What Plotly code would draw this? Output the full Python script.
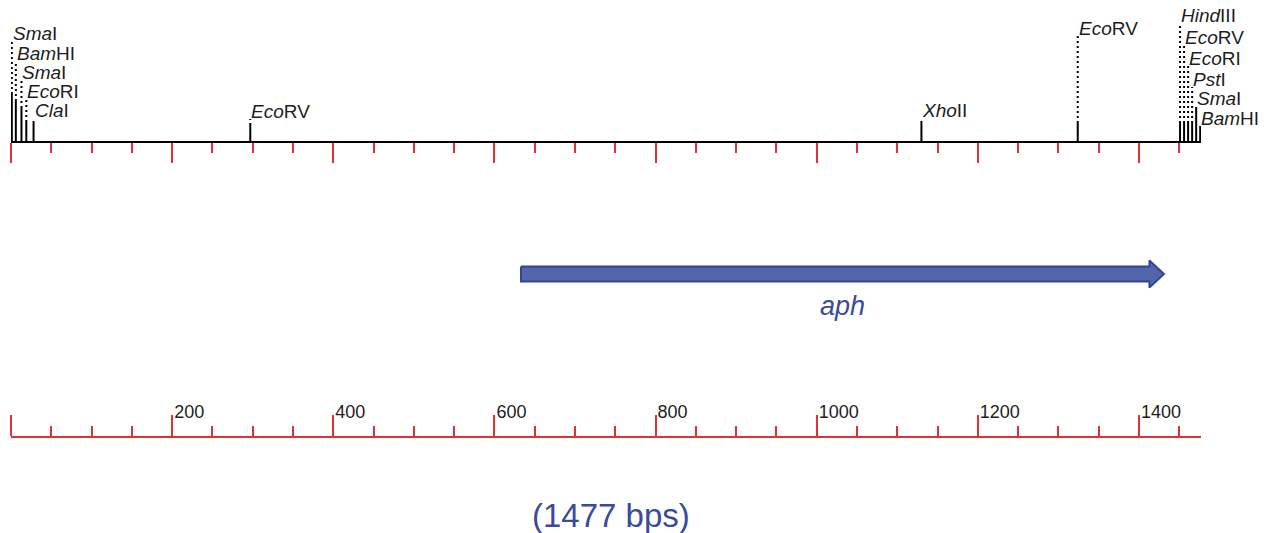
import plotly.graph_objects as go

# ---------------- data ----------------
plasmid_length = 1477

site_italic = ["Sma", "Bam", "Sma", "Eco", "Cla", "Eco", "Xho", "Eco",
               "Hind", "Eco", "Eco", "Pst", "Sma", "Bam"]
site_roman = ["I", "HI", "I", "RI", "I", "RV", "II", "RV",
              "III", "RV", "RI", "I", "I", "HI"]
site_positions = [1, 6, 13, 19, 28, 297, 1130, 1324,
                  1451, 1456, 1461, 1466, 1471, 1476]

gene_name = "aph"
gene_start = 633
gene_end = 1431

major_ticks = [0, 200, 400, 600, 800, 1000, 1200, 1400]
major_tick_labels = ["", "200", "400", "600", "800", "1000", "1200", "1400"]
minor_step = 50

# ---------------- layout / style (pixels above the map line) ----------------
label_levels = [109, 89, 70, 51, 32, 31, 32, 114,
                127, 105, 84, 63, 44, 24]
solid_heights = [48, 41, 34, 20, 19, 17, 19, 19,
                 19, 19, 19, 19, 33, 17]
label_gap = 8

RED = "#e03232"
BLUE_FILL = "#5565aa"
BLUE_LINE = "#314595"
BLUE_TEXT = "#3a4b9b"
TEXT = "#1e1e1e"
FONT = "Liberation Sans, Arial, sans-serif"

W, H = 1270, 533
base_px = 142          # pixel row of the map line
scale_px = 437         # pixel row of the bottom scale
x_left_px, x_right_px = 11, 1201

fig = go.Figure()

# restriction-site lines
solid_x, solid_y, dot_x, dot_y = [], [], [], []
for pos, lvl, sh in zip(site_positions, label_levels, solid_heights):
    top = lvl - label_gap
    s = min(sh, top)
    solid_x += [pos, pos, None]
    solid_y += [0, s, None]
    if top > s:
        dot_x += [pos, pos, None]
        dot_y += [s, top, None]

fig.add_trace(go.Scatter(x=solid_x, y=solid_y, mode="lines",
                         line=dict(color="black", width=2),
                         hoverinfo="skip", showlegend=False))
fig.add_trace(go.Scatter(x=dot_x, y=dot_y, mode="lines",
                         line=dict(color="black", width=2, dash="2px,3px"),
                         hoverinfo="skip", showlegend=False))

for it, ro, pos, lvl in zip(site_italic, site_roman, site_positions, label_levels):
    fig.add_annotation(x=pos, y=lvl, xref="x", yref="y",
                       text=f"<i>{it}</i>{ro}", showarrow=False,
                       xanchor="left", yanchor="middle", xshift=0, borderpad=0,
                       font=dict(family=FONT, size=19, color=TEXT))

# gene arrow
body_half, head_half = 7.5, 13.5
center = -132
head_len = 18
head_start = gene_end - head_len
ax = [gene_start, head_start, head_start, gene_end, head_start, head_start, gene_start, gene_start]
ay = [center + body_half, center + body_half, center + head_half, center,
      center - head_half, center - body_half, center - body_half, center + body_half]
fig.add_trace(go.Scatter(x=ax, y=ay, mode="lines", fill="toself",
                         fillcolor=BLUE_FILL, line=dict(color=BLUE_LINE, width=2),
                         hoverinfo="skip", showlegend=False))
fig.add_annotation(x=(gene_start + gene_end) / 2, y=-164, xref="x", yref="y",
                   text=f"<i>{gene_name}</i>", showarrow=False,
                   font=dict(family=FONT, size=27, color=BLUE_TEXT))

fig.add_annotation(x=611 / W, y=(H - 515) / H, xref="paper", yref="paper",
                   xanchor="center", yanchor="middle",
                   text=f"({plasmid_length} bps)", showarrow=False,
                   font=dict(family=FONT, size=33, color=BLUE_TEXT))

# invisible trace so that the bottom scale axis is drawn
fig.add_trace(go.Scatter(x=[0, plasmid_length], y=[None, None], xaxis="x2",
                         mode="lines", hoverinfo="skip", showlegend=False))

dom = [x_left_px / W, x_right_px / W]
minor = dict(tick0=0, dtick=minor_step, ticks="outside", ticklen=10,
             tickwidth=2, tickcolor=RED, showgrid=False)

fig.update_layout(
    width=W, height=H,
    margin=dict(l=0, r=0, t=0, b=0),
    paper_bgcolor="white", plot_bgcolor="white",
    showlegend=False,
    xaxis=dict(domain=dom, range=[0, plasmid_length], anchor="free",
               position=(H - base_px) / H, side="bottom",
               showline=True, linecolor="black", linewidth=2,
               ticks="outside", ticklen=20, tickwidth=2, tickcolor=RED,
               tickmode="array", tickvals=major_ticks, showticklabels=False,
               minor=minor, showgrid=False, zeroline=False, fixedrange=True),
    xaxis2=dict(domain=dom, range=[0, plasmid_length], overlaying="x",
                anchor="free", position=(H - scale_px) / H, side="top",
                showline=True, linecolor=RED, linewidth=2,
                ticks="outside", ticklen=21, tickwidth=2, tickcolor=RED,
                tickmode="array", tickvals=major_ticks, ticktext=major_tick_labels,
                ticklabelposition="outside right", ticklabelstandoff=11,
                tickfont=dict(family=FONT, size=18, color=TEXT),
                minor=minor, showgrid=False, zeroline=False, fixedrange=True),
    yaxis=dict(domain=[0, 1], range=[base_px - H, base_px], visible=False,
               fixedrange=True),
)

fig.write_html("out.html", config={"displayModeBar": False},
               post_script="document.body.style.margin='0';")
